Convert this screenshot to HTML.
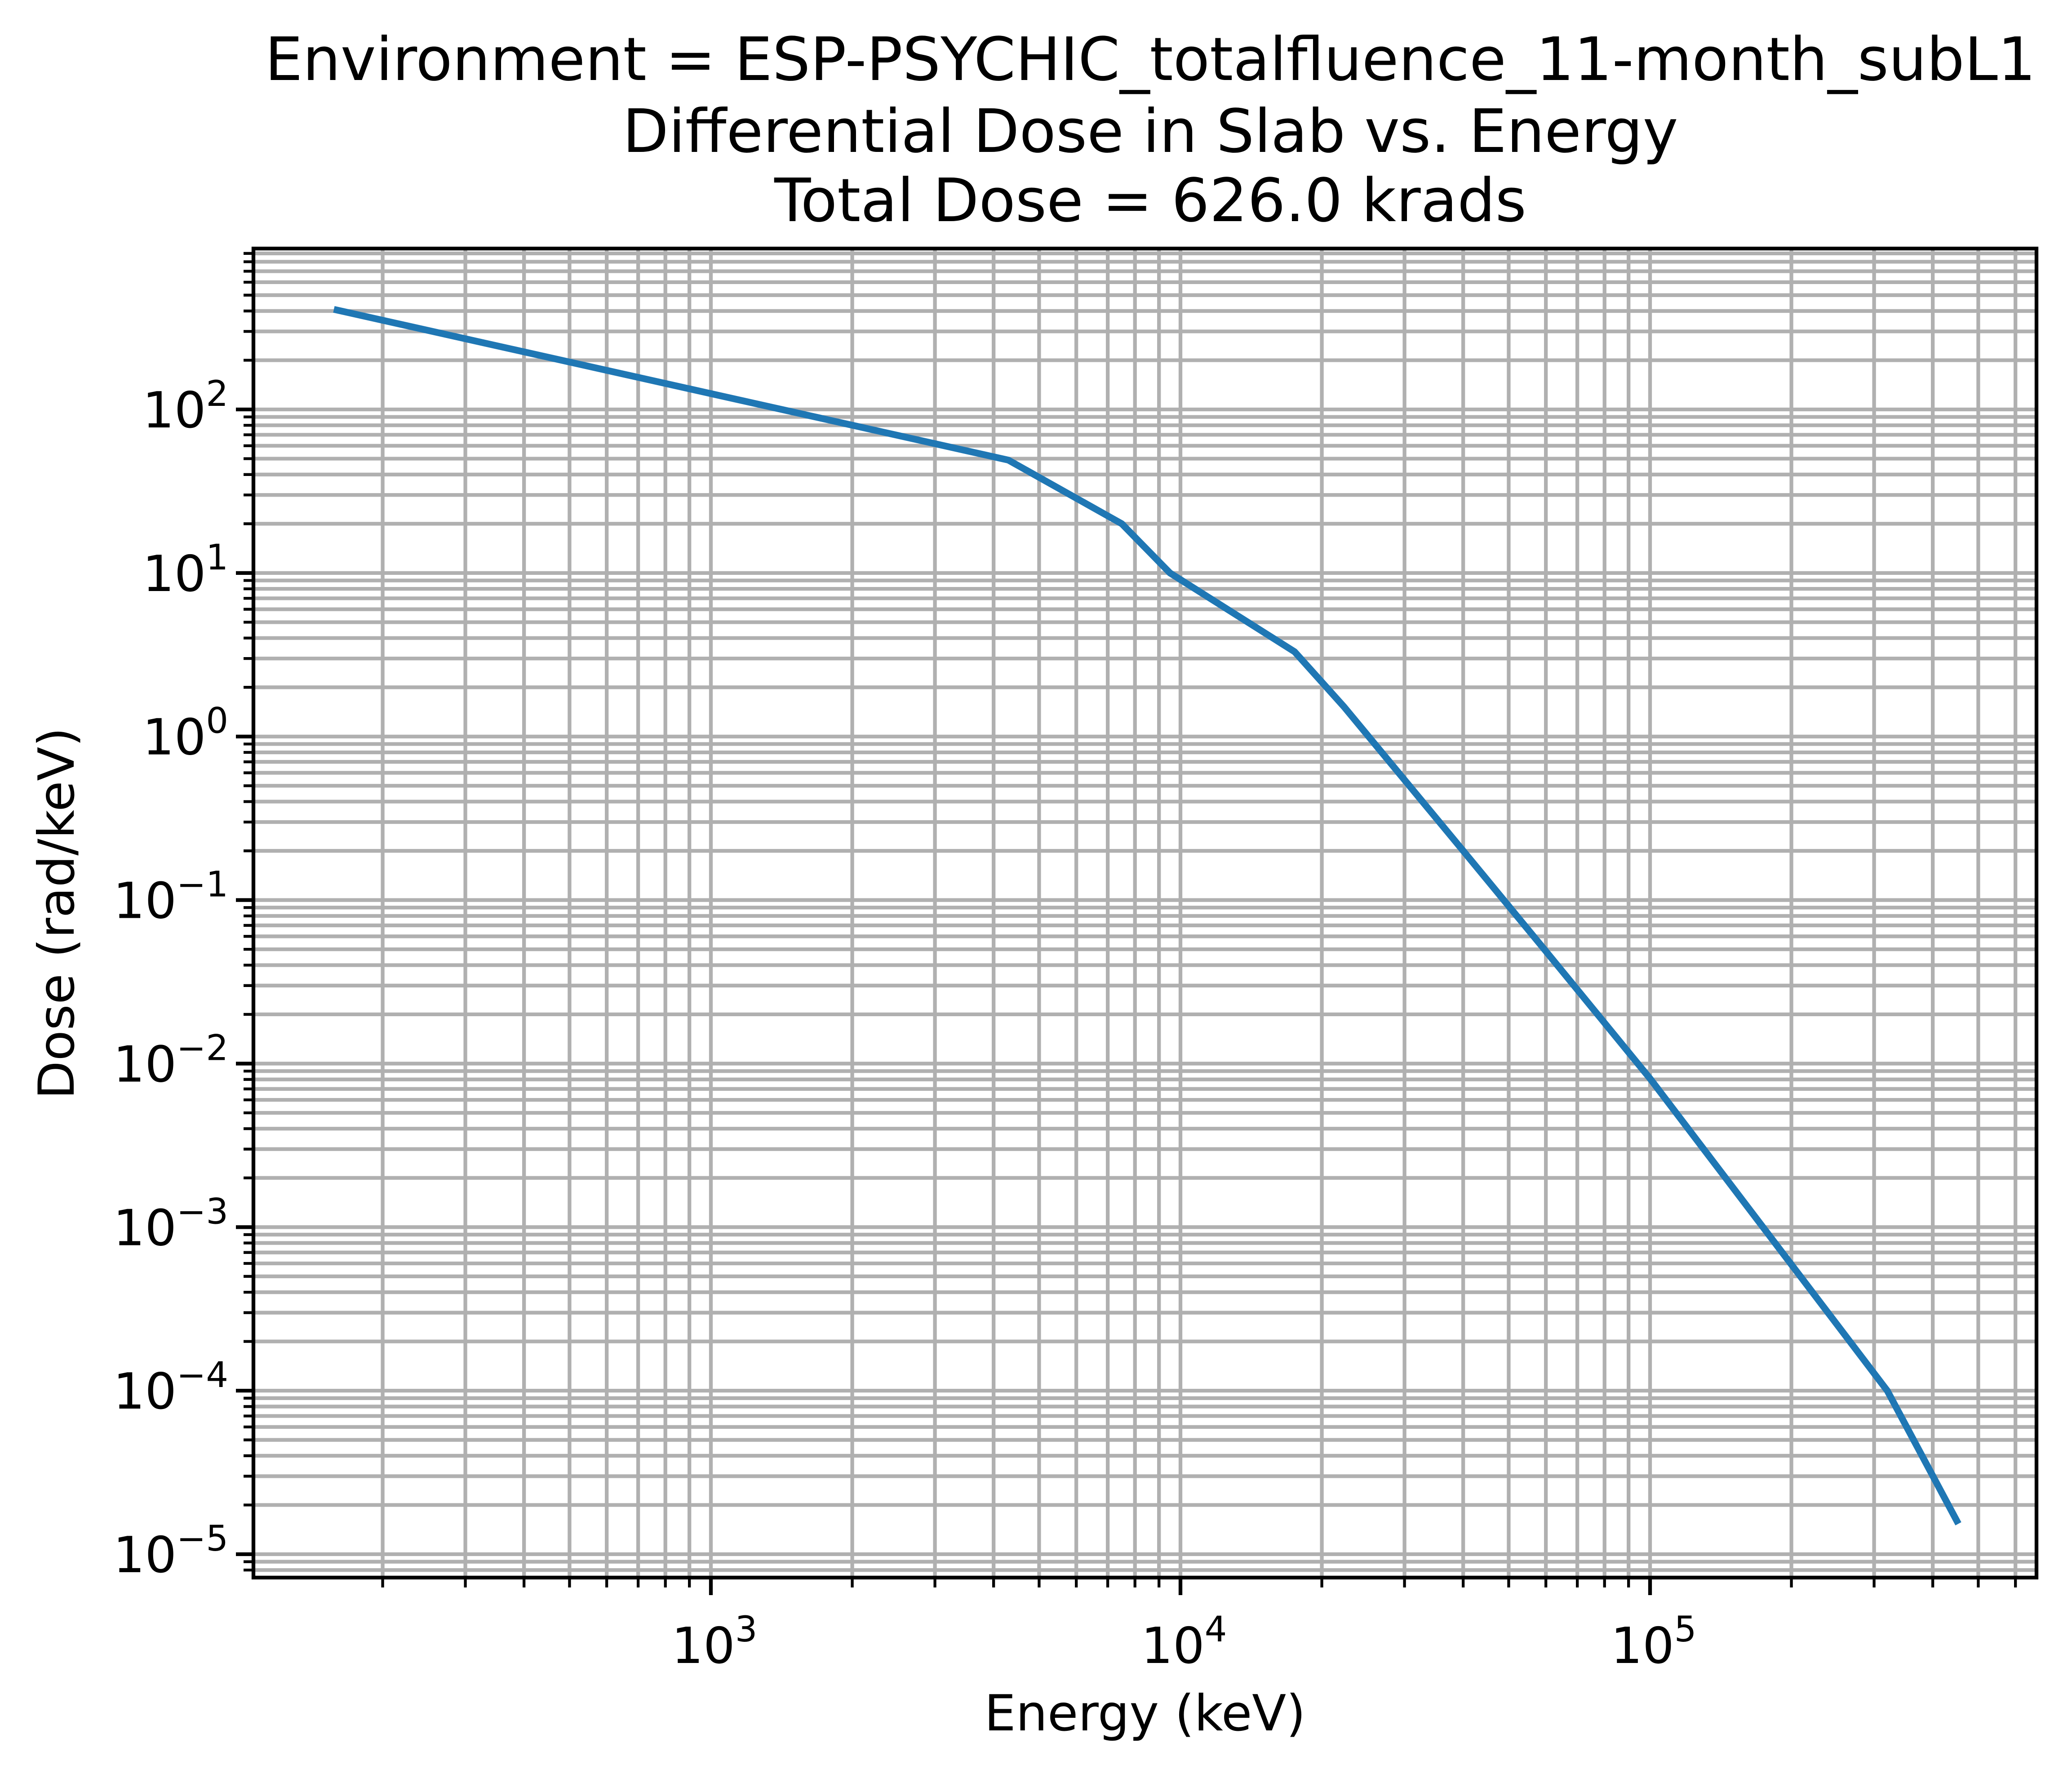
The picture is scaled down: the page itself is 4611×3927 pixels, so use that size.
<!DOCTYPE html>
<html>
<head>
<meta charset="utf-8">
<style>
html,body{margin:0;padding:0;background:#fff;}
svg{display:block;}
text{font-family:"DejaVu Sans","Liberation Sans",sans-serif;fill:#000;}
</style>
</head>
<body>
<svg id="chart" width="4611" height="3927" viewBox="0 0 4611 3927" xmlns="http://www.w3.org/2000/svg">
  <rect x="0" y="0" width="4611" height="3927" fill="#fff"/>
  <g id="grid"></g>
  <g id="series"></g>
  <g id="axes"></g>
  <g>
    <text x="2560" y="178" font-size="133" text-anchor="middle">Environment = ESP-PSYCHIC_totalfluence_11-month_subL1</text>
    <text x="2560" y="338" font-size="133" text-anchor="middle">Differential Dose in Slab vs. Energy</text>
    <text x="2560" y="492" font-size="133" text-anchor="middle">Total Dose = 626.0 krads</text>
  </g>
  <text x="2548" y="3850" font-size="111" text-anchor="middle">Energy (keV)</text>
  <text x="0" y="0" font-size="111" text-anchor="middle" transform="translate(164,2032) rotate(-90)">Dose (rad/keV)</text>
</svg>
<script>
const energies = [160, 4300, 7500, 9500, 17500, 22300, 40000, 59200, 100000, 320000, 450000];
const doses = [405, 49, 20, 10, 3.3, 1.52, 0.2, 0.051, 0.0081, 0.0001, 0.000016];
const xTickExps = [3, 4, 5];
const yTickExps = [2, 1, 0, -1, -2, -3, -4, -5];

const L = 564, R = 4532, T = 553, B = 3510;
const X3 = 1582, XDEC = 1045;
const Y2 = 911, YDEC = 363.86;
const xLogMin = 3 - (X3 - L) / XDEC, xLogMax = 3 + (R - X3) / XDEC;
const yLogMax = 2 + (Y2 - T) / YDEC, yLogMin = 2 - (B - Y2) / YDEC;
function xs(v){ return X3 + (Math.log10(v) - 3) * XDEC; }
function ys(v){ return Y2 - (Math.log10(v) - 2) * YDEC; }

const NS = "http://www.w3.org/2000/svg";
function mk(tag, attrs, parent){
  const e = document.createElementNS(NS, tag);
  for (const k in attrs) e.setAttribute(k, attrs[k]);
  parent.appendChild(e);
  return e;
}
const grid = document.getElementById('grid');
const axes = document.getElementById('axes');
const series = document.getElementById('series');

for (let d = Math.floor(xLogMin); d <= Math.ceil(xLogMax); d++) {
  for (let m = 1; m <= 9; m++) {
    const v = m * Math.pow(10, d);
    const lv = Math.log10(v);
    if (lv < xLogMin || lv > xLogMax) continue;
    const x = xs(v);
    const g = mk('line', {x1:x, x2:x, y1:T, y2:B, stroke:'#b0b0b0', 'stroke-width':8.3}, grid);
    
    
    const major = (m === 1);
    const t = mk('line', {x1:x, x2:x, y1:B, y2:B + (major ? 39 : 22), stroke:'#000', 'stroke-width':major ? 8.3 : 6.3}, axes);
    
    
  }
}
xTickExps.forEach(function(e){
  const x = xs(Math.pow(10, e));
  const tx = mk('text', {x:x + 8, y:3700, 'font-size':111, 'text-anchor':'middle'}, axes);
  
  
  tx.textContent = '10';
  const sp = mk('tspan', {dy:-48, 'font-size':78}, tx);
  sp.textContent = String(e);
});

for (let d = Math.floor(yLogMin); d <= Math.ceil(yLogMax); d++) {
  for (let m = 1; m <= 9; m++) {
    const v = m * Math.pow(10, d);
    const lv = Math.log10(v);
    if (lv < yLogMin || lv > yLogMax) continue;
    const y = ys(v);
    const g = mk('line', {x1:L, x2:R, y1:y, y2:y, stroke:'#b0b0b0', 'stroke-width':8.3}, grid);
    
    
    const major = (m === 1);
    const t = mk('line', {x1:L - (major ? 39 : 22), x2:L, y1:y, y2:y, stroke:'#000', 'stroke-width':major ? 8.3 : 6.3}, axes);
    
    
  }
}
yTickExps.forEach(function(e){
  const y = ys(Math.pow(10, e));
  const tx = mk('text', {x:L - 56, y:y + 40, 'font-size':111, 'text-anchor':'end'}, axes);
  
  
  tx.textContent = '10';
  const sp = mk('tspan', {dy:-48, 'font-size':78}, tx);
  sp.textContent = (e < 0 ? '\u2212' : '') + Math.abs(e);
});

const sp = mk('rect', {x:L, y:T, width:R - L, height:B - T, fill:'none', stroke:'#000', 'stroke-width':8.3}, axes);



const pts = energies.map(function(e, i){ return xs(e).toFixed(1) + ',' + ys(doses[i]).toFixed(1); }).join(' ');
const line = mk('polyline', {points:pts, fill:'none', stroke:'#1f77b4', 'stroke-width':15, 'stroke-linejoin':'round', 'stroke-linecap':'square'}, series);


</script>
</body>
</html>
